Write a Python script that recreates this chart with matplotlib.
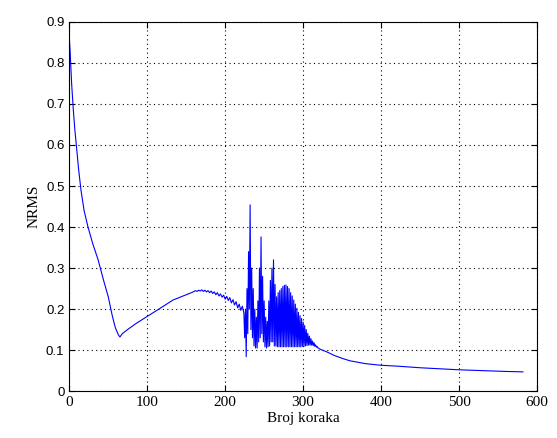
import numpy as np
import matplotlib.pyplot as plt

# NRMS po koracima, ocitano sa slike
# pocetni pad
pad_x = [0, 1, 2, 3, 5, 7, 9, 12, 15, 19, 24, 30, 37, 44, 50, 55, 59, 63, 65]
pad_y = [0.862, 0.83, 0.79, 0.75, 0.69, 0.64, 0.60, 0.54, 0.49, 0.44, 0.40,
         0.36, 0.32, 0.27, 0.23, 0.185, 0.155, 0.137, 0.132]

# lagani porast
rast_x = [68, 74, 85, 99, 115, 133, 150, 158]
rast_y = [0.140, 0.149, 0.164, 0.181, 0.200, 0.222, 0.235, 0.241]

# sitni sum (korak 2, od 160 do 222)
sum_x = list(range(160, 224, 2))
sum_y = [0.243, 0.245, 0.243, 0.246, 0.244, 0.247, 0.243, 0.246, 0.242, 0.245,
         0.240, 0.244, 0.238, 0.242, 0.235, 0.240, 0.232, 0.237, 0.229, 0.234,
         0.224, 0.231, 0.221, 0.228, 0.215, 0.223, 0.210, 0.218, 0.203, 0.212,
         0.197, 0.207]

# jake oscilacije (korak 1, od 224 do 322)
osc_x = list(range(224, 323))
osc_y = [0.190, 0.130, 0.200, 0.084, 0.250, 0.140, 0.340, 0.200, 0.454, 0.150,
         0.300, 0.130, 0.250, 0.110, 0.200, 0.105, 0.180, 0.105, 0.220, 0.120,
         0.300, 0.130, 0.376, 0.140, 0.280, 0.120, 0.220, 0.108, 0.180, 0.105,
         0.170, 0.108, 0.220, 0.110, 0.270, 0.120, 0.300, 0.120, 0.320, 0.110,
         0.260, 0.110, 0.230, 0.108, 0.240, 0.108, 0.245, 0.108, 0.250, 0.108,
         0.255, 0.108, 0.258, 0.108, 0.259, 0.108, 0.255, 0.108, 0.250, 0.108,
         0.240, 0.108, 0.232, 0.108, 0.222, 0.108, 0.212, 0.108, 0.202, 0.108,
         0.192, 0.108, 0.184, 0.108, 0.177, 0.109, 0.168, 0.109, 0.160, 0.110,
         0.150, 0.111, 0.141, 0.112, 0.134, 0.112, 0.128, 0.112, 0.122, 0.111,
         0.118, 0.109, 0.113, 0.107, 0.109, 0.105, 0.105, 0.103, 0.102]

# rep krivulje
rep_x = [330, 340, 350, 360, 380, 400, 420, 450, 480, 500, 530, 560, 582]
rep_y = [0.096, 0.087, 0.080, 0.074, 0.067, 0.063, 0.061, 0.057, 0.054,
         0.052, 0.050, 0.048, 0.047]

x = np.array(pad_x + rast_x + sum_x + osc_x + rep_x)
y = np.array(pad_y + rast_y + sum_y + osc_y + rep_y)

fig = plt.figure(figsize=(5.57, 4.38), dpi=100)
ax = fig.add_axes([0.1244, 0.107, 0.8396, 0.843])
ax.plot(x, y, color='#0000ff', linewidth=0.8)

ax.set_xlim(0, 600)
ax.set_ylim(0, 0.9)
ax.set_xticks(np.arange(0, 601, 100))
ax.set_yticks(np.arange(0, 0.91, 0.1))
ax.set_yticklabels(['0', '0.1', '0.2', '0.3', '0.4', '0.5', '0.6', '0.7', '0.8', '0.9'])
ax.grid(True, linestyle=(0, (1, 3)), color='black', linewidth=0.8)
ax.tick_params(direction='in', top=True, right=True, length=4)
for lab in ax.get_xticklabels():
    lab.set_fontfamily('Liberation Serif')
    lab.set_fontsize(11)
for lab in ax.get_yticklabels():
    lab.set_fontfamily('Liberation Sans')
    lab.set_fontsize(9.5)
for s in ax.spines.values():
    s.set_linewidth(0.8)

ax.set_xlabel('Broj koraka', fontfamily='Liberation Serif', fontsize=11, labelpad=2)
ax.set_ylabel('NRMS', fontfamily='Liberation Serif', fontsize=11, labelpad=4)

fig.savefig('out.png', dpi=100)
